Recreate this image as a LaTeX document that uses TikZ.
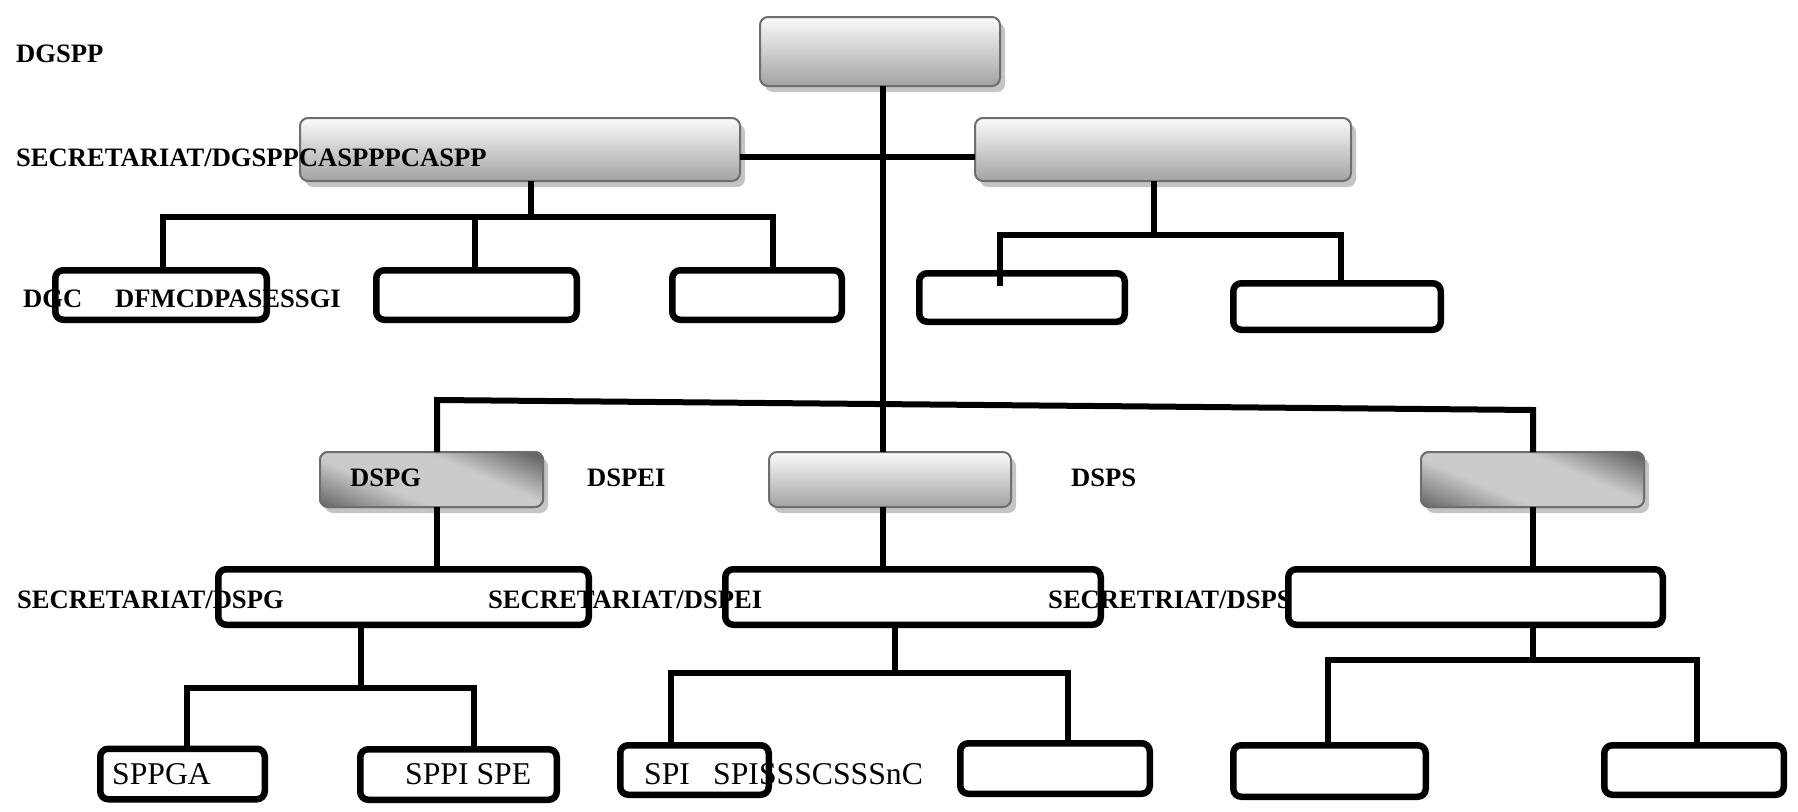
\documentclass[tikz,border=0pt]{standalone}
\usepackage{fontspec}
\setmainfont{Liberation Serif}
\usetikzlibrary{shadows,calc}
\definecolor{mdark}{HTML}{686868}
\definecolor{mlight}{HTML}{CBCBCB}
\definecolor{gtop}{HTML}{FBFBFB}
\definecolor{gbot}{HTML}{A2A2A2}
\definecolor{boxedge}{HTML}{6E6E6E}
\definecolor{shadowc}{HTML}{C4C4C4}
\newcommand\metalfill[1]{%
  \begin{scope}
    \clip[rounded corners=8pt] (#1.south west) rectangle (#1.north east);
    \begin{scope}[shift={(#1.center)}, rotate=67]
      \foreach \u in {-76,-74,...,76}{%
        \pgfmathsetmacro\metT{\u/72}%
        \pgfmathsetmacro\metP{100*min(1,max(0,min((\metT+0.95)/0.6,(0.85-\metT)/0.55)))}%
        \fill[mlight!\metP!mdark] (\u,-160) rectangle (\u+2.6,160);
      }
    \end{scope}
  \end{scope}
  \draw[boxedge, line width=2pt, rounded corners=8pt] (#1.south west) rectangle (#1.north east);}
\begin{document}
\begin{tikzpicture}[x=1pt,y=-1pt,
  gbox/.style={draw=boxedge, line width=2pt, rounded corners=8pt, top color=gtop, bottom color=gbot,
    drop shadow={opacity=1, fill=shadowc, shadow xshift=5pt, shadow yshift=-6pt}, inner sep=0pt, outer sep=0pt},
  dbox/.style={draw=boxedge, line width=2pt, rounded corners=8pt, fill=mlight,
    drop shadow={opacity=1, fill=shadowc, shadow xshift=5pt, shadow yshift=-6pt}, inner sep=0pt, outer sep=0pt},
  bbox/.style={draw=black, line width=6.5pt, rounded corners=8pt, inner sep=0pt, outer sep=0pt},
  conn/.style={draw=black, line width=6pt},
  lbl/.style={font=\fontsize{26.6}{30}\selectfont\bfseries, anchor=base west, inner sep=0pt},
  lblr/.style={font=\fontsize{31.7}{36}\selectfont, anchor=base west, inner sep=0pt}]
\useasboundingbox (0,0) rectangle (1798,811);

% shaded boxes
\node[gbox, minimum width=240pt, minimum height=69pt] (top) at (880,51.5) {};
\node[gbox, minimum width=440pt, minimum height=63pt] (l2L) at (520,149.5) {};
\node[gbox, minimum width=376pt, minimum height=63pt] (l2R) at (1163,149.5) {};
\node[gbox, minimum width=242pt, minimum height=55pt] (dspei) at (890,479.5) {};
\node[dbox, minimum width=223pt, minimum height=55pt] (dspg) at (431.5,479.5) {};
\node[dbox, minimum width=223pt, minimum height=55pt] (dsps) at (1532.5,479.5) {};
\metalfill{dspg}
\metalfill{dsps}

% black boxes
\node[bbox, minimum width=211.5pt, minimum height=49.5pt] (A) at (161,295) {};
\node[bbox, minimum width=200.5pt, minimum height=49.5pt] (B) at (476.5,295) {};
\node[bbox, minimum width=169.5pt, minimum height=49.5pt] (C) at (757,295) {};
\node[bbox, minimum width=205.5pt, minimum height=48.5pt] (D) at (1022,297.5) {};
\node[bbox, minimum width=207.5pt, minimum height=46.5pt] (E) at (1337,306.5) {};
\node[bbox, minimum width=370.5pt, minimum height=55.5pt] (secL) at (403.5,597) {};
\node[bbox, minimum width=375.5pt, minimum height=55.5pt] (secM) at (913,597) {};
\node[bbox, minimum width=374.5pt, minimum height=55.5pt] (secR) at (1475.5,597) {};
\node[bbox, minimum width=164.5pt, minimum height=50.5pt] (sppga) at (182.5,774) {};
\node[bbox, minimum width=196.5pt, minimum height=50.5pt] (sppi) at (458.5,774.5) {};
\node[bbox, minimum width=148.5pt, minimum height=49.5pt] (spi) at (694.5,770) {};
\node[bbox, minimum width=189.5pt, minimum height=50.5pt] (F) at (1055,768.5) {};
\node[bbox, minimum width=192.5pt, minimum height=51.5pt] (G) at (1329.5,771) {};
\node[bbox, minimum width=179.5pt, minimum height=49.5pt] (H) at (1694,770) {};

% junction coordinates
\coordinate (trunk) at (883,0);
\coordinate (hy) at (0,157);
\coordinate (b1L) at (162.5,217);
\coordinate (b1M) at (531,217);
\coordinate (b1B) at (475,217);
\coordinate (b1R) at (773,217);
\coordinate (b2L) at (1000,235);
\coordinate (b2M) at (1154,235);
\coordinate (b2R) at (1341,235);
\coordinate (s1) at (437,400);
\coordinate (s2) at (1533,410);
\coordinate (b3L) at (186.5,688);
\coordinate (b3M) at (360.5,688);
\coordinate (b3R) at (473.5,688);
\coordinate (b4L) at (670.5,673);
\coordinate (b4M) at (895,673);
\coordinate (b4R) at (1067.5,673);
\coordinate (b5L) at (1328,660);
\coordinate (b5M) at (1533,660);
\coordinate (b5R) at (1697,660);

% connectors
\draw[conn] (top.south -| trunk) -- (dspei.north -| trunk);
\draw[conn] (dspei.south -| trunk) -- (secM.north -| trunk);
\draw[conn] (l2L.east |- hy) -- (l2R.west |- hy);
\draw[conn] (l2L.south -| b1M) -- (b1M);
\draw[conn] (A.north -| b1L) |- (b1R) -- (C.north -| b1R);
\draw[conn] (b1B) -- (B.north -| b1B);
\draw[conn] (l2R.south -| b2M) -- (b2M);
\draw[conn] ($(D.north -| b2L)+(0,13)$) |- (b2R) -- (E.north -| b2R);
\draw[conn] (dspg.north -| s1) -- (s1) -- (s2) -- (dsps.north -| s2);
\draw[conn] (dspg.south -| s1) -- (secL.north -| s1);
\draw[conn] (dsps.south -| s2) -- (secR.north -| s2);
\draw[conn] (secL.south -| b3M) -- (b3M);
\draw[conn] (sppga.north -| b3L) |- (b3R) -- (sppi.north -| b3R);
\draw[conn] (secM.south -| b4M) -- (b4M);
\draw[conn] (spi.north -| b4L) |- (b4R) -- (F.north -| b4R);
\draw[conn] (secR.south -| b5M) -- (b5M);
\draw[conn] (G.north -| b5L) |- (b5R) -- (H.north -| b5R);

% texts
\node[lbl] (t1) at (16,62) {DGSPP};
\node[lbl] (t2) at (16,166) {SECRETARIAT/DGSPPCASPPPCASPP};
\node[lbl] (t3) at (23,307) {DGC};
\node[lbl] (t4) at (115,307) {DFMCDPASESSGI};
\node[lbl] (t5) at (350,486) {DSPG};
\node[lbl] (t6) at (587,486) {DSPEI};
\node[lbl] (t7) at (1071,486) {DSPS};
\node[lbl] (t8) at (17,608) {SECRETARIAT/DSPG};
\node[lbl] (t9) at (488,608) {SECRETARIAT/DSPEI};
\node[lbl] (t10) at (1048,608) {SECRETRIAT/DSPS};
\node[lblr] (t11) at (112,784) {SPPGA};
\node[lblr] (t12) at (405,784) {SPPI SPE};
\node[lblr] (t13) at (644,784) {SPI};
\node[lblr] (t14) at (713,784) {SPISSSCSSSnC};
\end{tikzpicture}
\end{document}
